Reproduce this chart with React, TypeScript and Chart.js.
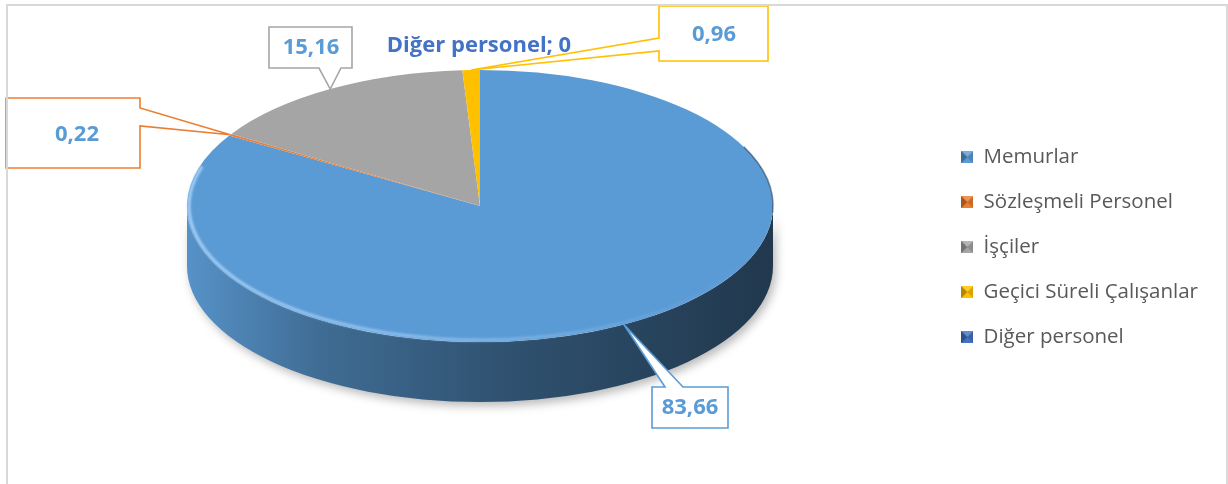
import React, { useEffect, useRef } from 'react';
import { Chart, registerables } from 'chart.js';

Chart.register(...registerables);

// ---- data ----
const categories = ['Memurlar', 'Sözleşmeli Personel', 'İşçiler', 'Geçici Süreli Çalışanlar', 'Diğer personel'];
const values = [83.66, 0.22, 15.16, 0.96, 0];
const colors = ['#5B9BD5', '#ED7D31', '#A5A5A5', '#FFC000', '#4472C4'];

// ---- layout (page px) ----
const ELLIPSE = { cx: 480, cy: 206, rx: 293, ry: 136, depth: 60 };
type Callout = { box: number[] | null; side?: string; wedge?: number[]; text: number[] };
const CALLOUTS: Callout[] = [
  { box: [652, 387, 76, 41], side: 'top', wedge: [665, 683], text: [690, 408] },
  { box: [6, 98, 134, 70], side: 'right', wedge: [108, 126], text: [77, 135] },
  { box: [269, 27, 83, 41], side: 'bottom', wedge: [319, 341], text: [311, 48] },
  { box: [659, 6, 109, 55], side: 'left', wedge: [38, 51], text: [714, 35] },
  { box: null, text: [479, 46] },
];

const fmt = (v: number) => String(v).replace('.', ',');

function hexToRgb(h: string) {
  const n = parseInt(h.slice(1), 16);
  return [(n >> 16) & 255, (n >> 8) & 255, n & 255];
}
function shade(h: string, k: number) {
  const [r, g, b] = hexToRgb(h);
  return `rgb(${Math.round(r * (1 - k))},${Math.round(g * (1 - k))},${Math.round(b * (1 - k))})`;
}

function makeMarker(color: string) {
  const c = document.createElement('canvas');
  c.width = 12;
  c.height = 12;
  const g = c.getContext('2d')!;
  g.fillStyle = color;
  g.fillRect(0, 0, 12, 12);
  g.fillStyle = 'rgba(0,0,0,0.30)';
  g.beginPath(); g.moveTo(0, 0); g.lineTo(6, 6); g.lineTo(0, 12); g.closePath(); g.fill();
  g.fillStyle = 'rgba(0,0,0,0.15)';
  g.beginPath(); g.moveTo(12, 0); g.lineTo(6, 6); g.lineTo(12, 12); g.closePath(); g.fill();
  g.fillStyle = 'rgba(255,255,255,0.18)';
  g.beginPath(); g.moveTo(0, 0); g.lineTo(6, 6); g.lineTo(12, 0); g.closePath(); g.fill();
  return c;
}

function drawCallout(ctx: CanvasRenderingContext2D, c: Callout, tip: { x: number; y: number }, color: string) {
  if (!c.box) return;
  const [x, y, w, h] = c.box;
  const wd = c.wedge || [0, 0];
  ctx.beginPath();
  ctx.moveTo(x, y);
  if (c.side === 'top') { ctx.lineTo(wd[0], y); ctx.lineTo(tip.x, tip.y); ctx.lineTo(wd[1], y); }
  ctx.lineTo(x + w, y);
  if (c.side === 'right') { ctx.lineTo(x + w, wd[0]); ctx.lineTo(tip.x, tip.y); ctx.lineTo(x + w, wd[1]); }
  ctx.lineTo(x + w, y + h);
  if (c.side === 'bottom') { ctx.lineTo(wd[1], y + h); ctx.lineTo(tip.x, tip.y); ctx.lineTo(wd[0], y + h); }
  ctx.lineTo(x, y + h);
  if (c.side === 'left') { ctx.lineTo(x, wd[1]); ctx.lineTo(tip.x, tip.y); ctx.lineTo(x, wd[0]); }
  ctx.closePath();
  ctx.fillStyle = '#ffffff';
  ctx.fill();
  ctx.lineWidth = 1.6;
  ctx.strokeStyle = color;
  ctx.lineJoin = 'miter';
  ctx.stroke();
}

const pie3d = {
  id: 'pie3d',
  beforeDatasetsDraw(chart: any) {
    const meta = chart.getDatasetMeta(0);
    const ctx: CanvasRenderingContext2D = chart.ctx;
    const { cx, cy, rx, ry, depth } = ELLIPSE;
    // side walls (front half)
    meta.data.forEach((arc: any, i: number) => {
      const { startAngle, endAngle } = arc.getProps(['startAngle', 'endAngle'], true);
      const a1 = Math.max(startAngle, 0);
      const a2 = Math.min(endAngle, Math.PI);
      if (a2 <= a1) return;
      const base = colors[i];
      const grad = ctx.createLinearGradient(cx - rx, 0, cx + rx, 0);
      grad.addColorStop(0, shade(base, 0.06));
      grad.addColorStop(0.22, shade(base, 0.3));
      grad.addColorStop(0.55, shade(base, 0.48));
      grad.addColorStop(1, shade(base, 0.64));
      ctx.save();
      ctx.shadowColor = 'rgba(0,0,0,0.28)';
      ctx.shadowBlur = 10;
      ctx.shadowOffsetX = 3;
      ctx.shadowOffsetY = 4;
      ctx.beginPath();
      ctx.ellipse(cx, cy, rx, ry, 0, a1, a2, false);
      ctx.ellipse(cx, cy + depth, rx, ry, 0, a2, a1, true);
      ctx.closePath();
      ctx.fillStyle = grad;
      ctx.fill();
      ctx.restore();
    });
    // top face: map Chart.js circle to ellipse
    const el = meta.data[0];
    const { x, y, outerRadius } = el.getProps(['x', 'y', 'outerRadius'], true);
    ctx.save();
    ctx.translate(cx, cy);
    ctx.scale(rx / outerRadius, ry / outerRadius);
    ctx.translate(-x, -y);
  },
  afterDatasetsDraw(chart: any) {
    const ctx: CanvasRenderingContext2D = chart.ctx;
    ctx.restore();
    const { cx, cy, rx, ry } = ELLIPSE;
    // rim highlight on front edge
    ctx.save();
    const hg = ctx.createLinearGradient(cx - rx, 0, cx + rx, 0);
    hg.addColorStop(0, 'rgba(175,215,250,0.9)');
    hg.addColorStop(0.5, 'rgba(150,195,240,0.7)');
    hg.addColorStop(1, 'rgba(120,170,220,0.0)');
    ctx.beginPath();
    ctx.ellipse(cx, cy, rx - 2, ry - 2, 0, 0.15, Math.PI + 0.3, false);
    ctx.strokeStyle = hg;
    ctx.lineWidth = 3;
    ctx.filter = 'blur(1.2px)';
    ctx.stroke();
    ctx.restore();
    // dark edge on right back
    ctx.save();
    ctx.beginPath();
    ctx.ellipse(cx, cy, rx, ry, 0, -0.45, 0.05, false);
    ctx.strokeStyle = 'rgba(30,55,85,0.55)';
    ctx.lineWidth = 1.5;
    ctx.filter = 'blur(0.6px)';
    ctx.stroke();
    ctx.restore();

    // callouts
    const meta = chart.getDatasetMeta(0);
    meta.data.forEach((arc: any, i: number) => {
      const c = CALLOUTS[i];
      const { startAngle, endAngle } = arc.getProps(['startAngle', 'endAngle'], true);
      const mid = (startAngle + endAngle) / 2;
      const tip = { x: cx + rx * Math.cos(mid), y: cy + ry * Math.sin(mid) };
      ctx.save();
      ctx.font = 'bold 22px "Open Sans"';
      ctx.textAlign = 'center';
      ctx.textBaseline = 'middle';
      if (c.box) {
        drawCallout(ctx, c, tip, colors[i]);
        ctx.fillStyle = '#5B9BD5';
        ctx.fillText(fmt(values[i]), c.text[0], c.text[1]);
      } else {
        ctx.fillStyle = '#4472C4';
        ctx.fillText(`${categories[i]}; ${fmt(values[i])}`, c.text[0], c.text[1]);
      }
      ctx.restore();
    });
  },
};

export default function App() {
  const ref = useRef<HTMLCanvasElement>(null);
  useEffect(() => {
    if (!ref.current) return;
    const markers = colors.map(makeMarker);
    const chart = new Chart(ref.current, {
      type: 'pie',
      data: {
        labels: categories,
        datasets: [{ data: values, backgroundColor: colors, borderWidth: 0, clip: false } as any],
      },
      options: {
        responsive: false,
        animation: false,
        layout: { padding: { left: 0, right: 20, top: 10, bottom: 0 } },
        plugins: {
          tooltip: { enabled: false },
          legend: {
            position: 'right',
            align: 'center',
            labels: {
              usePointStyle: true,
              boxWidth: 12,
              boxHeight: 12,
              padding: 24.5,
              color: '#595959',
              font: { family: '"Open Sans"', size: 20.5 },
              generateLabels: () =>
                categories.map((t, i) => ({
                  text: t,
                  fillStyle: colors[i],
                  strokeStyle: colors[i],
                  lineWidth: 0,
                  pointStyle: markers[i] as any,
                  hidden: false,
                  index: i,
                  fontColor: '#595959',
                })),
            },
          },
        },
      },
      plugins: [pie3d],
    });
    return () => chart.destroy();
  }, []);
  return (
    <div style={{ position: 'fixed', left: 0, top: 0, width: 1228, height: 484, background: '#fff', overflow: 'hidden' }}>
      <canvas ref={ref} width={1228} height={484} style={{ position: 'absolute', left: 0, top: 0 }} />
      <div
        style={{
          position: 'absolute',
          left: 6,
          top: 4,
          width: 1222,
          height: 520,
          boxSizing: 'border-box',
          border: '2px solid #d9d9d9',
          pointerEvents: 'none',
        }}
      />
    </div>
  );
}
